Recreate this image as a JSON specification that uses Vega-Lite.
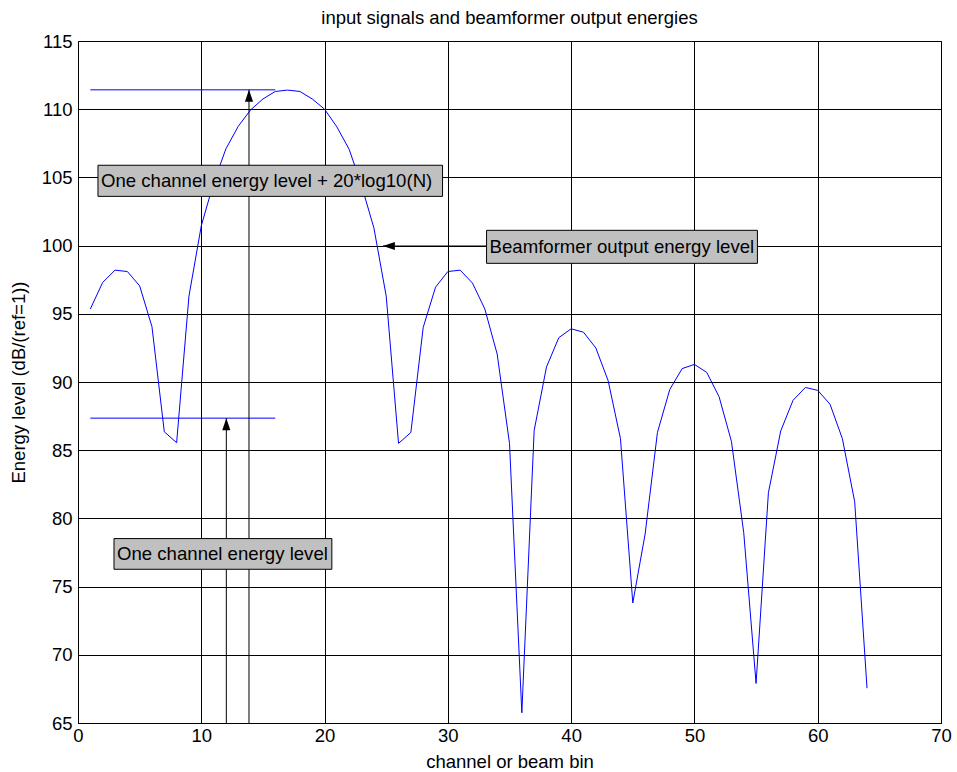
{
  "$schema": "https://vega.github.io/schema/vega-lite/v6.json",
  "width": 863,
  "height": 682,
  "autosize": {"type": "none"},
  "padding": {"left": 78, "top": 41, "right": 16, "bottom": 49},
  "background": "white",
  "title": {
    "text": "input signals and beamformer output energies",
    "font": "Liberation Sans",
    "fontSize": 18.5,
    "fontWeight": "normal",
    "color": "black",
    "offset": 5
  },
  "config": {
    "view": {"stroke": "black", "strokeWidth": 1},
    "axis": {
      "labelFont": "Liberation Sans",
      "labelFontSize": 18.5,
      "labelColor": "black",
      "titleFont": "Liberation Sans",
      "titleFontSize": 18.5,
      "titleFontWeight": "normal",
      "titleColor": "black",
      "grid": true,
      "gridColor": "black",
      "gridOpacity": 1,
      "gridWidth": 1,
      "domain": false,
      "ticks": false,
      "labelFlush": false,
      "labelOverlap": false
    }
  },
  "datasets": {
    "curve": [
      {"x": 1, "y": 95.35}, {"x": 2, "y": 97.3}, {"x": 3, "y": 98.2}, {"x": 4, "y": 98.1},
      {"x": 5, "y": 97.05}, {"x": 6, "y": 94.05}, {"x": 7, "y": 86.35}, {"x": 8, "y": 85.55},
      {"x": 9, "y": 96.3}, {"x": 10, "y": 101.45}, {"x": 11, "y": 104.6}, {"x": 12, "y": 107.1},
      {"x": 13, "y": 108.75}, {"x": 14, "y": 109.95}, {"x": 15, "y": 110.75}, {"x": 16, "y": 111.3},
      {"x": 17, "y": 111.4}, {"x": 18, "y": 111.3}, {"x": 19, "y": 110.75}, {"x": 20, "y": 110.0},
      {"x": 21, "y": 108.7}, {"x": 22, "y": 107.05}, {"x": 23, "y": 104.4}, {"x": 24, "y": 101.3},
      {"x": 25, "y": 96.3}, {"x": 26, "y": 85.5}, {"x": 27, "y": 86.3}, {"x": 28, "y": 94.0},
      {"x": 29, "y": 96.95}, {"x": 30, "y": 98.1}, {"x": 31, "y": 98.2}, {"x": 32, "y": 97.25},
      {"x": 33, "y": 95.35}, {"x": 34, "y": 92.05}, {"x": 35, "y": 85.5}, {"x": 36, "y": 65.75},
      {"x": 37, "y": 86.45}, {"x": 38, "y": 91.1}, {"x": 39, "y": 93.25}, {"x": 40, "y": 93.9},
      {"x": 41, "y": 93.65}, {"x": 42, "y": 92.5}, {"x": 43, "y": 90.1}, {"x": 44, "y": 85.85},
      {"x": 45, "y": 73.8}, {"x": 46, "y": 78.85}, {"x": 47, "y": 86.3}, {"x": 48, "y": 89.45},
      {"x": 49, "y": 90.98}, {"x": 50, "y": 91.29}, {"x": 51, "y": 90.7}, {"x": 52, "y": 88.92},
      {"x": 53, "y": 85.65}, {"x": 54, "y": 78.95}, {"x": 55, "y": 67.9}, {"x": 56, "y": 81.88},
      {"x": 57, "y": 86.41}, {"x": 58, "y": 88.66}, {"x": 59, "y": 89.6}, {"x": 60, "y": 89.39},
      {"x": 61, "y": 88.37}, {"x": 62, "y": 85.85}, {"x": 63, "y": 81.22}, {"x": 64, "y": 67.55}
    ],
    "levels": [
      {"x": 1, "x2": 16, "y": 111.42},
      {"x": 1, "x2": 16, "y": 87.35}
    ],
    "vArrows": [
      {"x": 13.87, "y": 65, "y2": 111.42},
      {"x": 12.03, "y": 65, "y2": 87.35}
    ],
    "hArrows": [
      {"x": 24.73, "x2": 33.14, "y": 99.97}
    ],
    "heads": [
      {"x": 13.87, "y": 111.42, "dir": "up"},
      {"x": 12.03, "y": 87.35, "dir": "up"},
      {"x": 24.73, "y": 99.97, "dir": "left"}
    ],
    "boxes": [
      {"x": 1.62, "x2": 29.57, "y": 103.61, "y2": 105.89, "ty": 104.75, "label": "One channel energy level + 20*log10(N)"},
      {"x": 33.14, "x2": 55.11, "y": 98.7, "y2": 101.12, "ty": 99.91, "label": "Beamformer output energy level"},
      {"x": 2.92, "x2": 20.59, "y": 76.27, "y2": 78.52, "ty": 77.4, "label": "One channel energy level"}
    ]
  },
  "layer": [
    {
      "data": {"name": "curve"},
      "mark": {"type": "line", "color": "#0000ff", "strokeWidth": 1},
      "encoding": {
        "x": {"field": "x", "type": "quantitative", "scale": {"domain": [0, 70], "nice": false, "zero": false},
              "axis": {"values": [0, 10, 20, 30, 40, 50, 60, 70], "title": "channel or beam bin", "labelPadding": 3, "titlePadding": 8}},
        "y": {"field": "y", "type": "quantitative", "scale": {"domain": [65, 115], "nice": false, "zero": false},
              "axis": {"values": [65, 70, 75, 80, 85, 90, 95, 100, 105, 110, 115], "title": "Energy level (dB/(ref=1))", "labelPadding": 6, "titlePadding": 12.5}}
      }
    },
    {
      "data": {"name": "levels"},
      "mark": {"type": "rule", "color": "#0000ff", "strokeWidth": 1},
      "encoding": {
        "x": {"field": "x", "type": "quantitative", "title": "channel or beam bin"},
        "x2": {"field": "x2"},
        "y": {"field": "y", "type": "quantitative", "title": "Energy level (dB/(ref=1))"}
      }
    },
    {
      "data": {"name": "vArrows"},
      "mark": {"type": "rule", "color": "black", "strokeWidth": 1},
      "encoding": {
        "x": {"field": "x", "type": "quantitative", "title": "channel or beam bin"},
        "y": {"field": "y", "type": "quantitative", "title": "Energy level (dB/(ref=1))"},
        "y2": {"field": "y2"}
      }
    },
    {
      "data": {"name": "hArrows"},
      "mark": {"type": "rule", "color": "black", "strokeWidth": 1},
      "encoding": {
        "x": {"field": "x", "type": "quantitative", "title": "channel or beam bin"},
        "x2": {"field": "x2"},
        "y": {"field": "y", "type": "quantitative", "title": "Energy level (dB/(ref=1))"}
      }
    },
    {
      "data": {"name": "heads"},
      "mark": {"type": "point", "filled": true, "color": "black", "opacity": 1, "size": 576, "strokeWidth": 0},
      "encoding": {
        "x": {"field": "x", "type": "quantitative", "title": "channel or beam bin"},
        "y": {"field": "y", "type": "quantitative", "title": "Energy level (dB/(ref=1))"},
        "shape": {"field": "dir", "type": "nominal", "legend": null,
                  "scale": {"domain": ["up", "left"], "range": ["M0,0 L-0.34,1 L0.34,1 Z", "M0,0 L1,-0.34 L1,0.34 Z"]}}
      }
    },
    {
      "data": {"name": "boxes"},
      "mark": {"type": "rect", "fill": "#c0c0c0", "stroke": "black", "strokeWidth": 1},
      "encoding": {
        "x": {"field": "x", "type": "quantitative", "title": "channel or beam bin"},
        "x2": {"field": "x2"},
        "y": {"field": "y", "type": "quantitative", "title": "Energy level (dB/(ref=1))"},
        "y2": {"field": "y2"}
      }
    },
    {
      "data": {"name": "boxes"},
      "mark": {"type": "text", "align": "left", "baseline": "middle", "dx": 3, "font": "Liberation Sans", "fontSize": 18.6, "color": "black"},
      "encoding": {
        "x": {"field": "x", "type": "quantitative", "title": "channel or beam bin"},
        "y": {"field": "ty", "type": "quantitative", "title": "Energy level (dB/(ref=1))"},
        "text": {"field": "label"}
      }
    }
  ]
}
